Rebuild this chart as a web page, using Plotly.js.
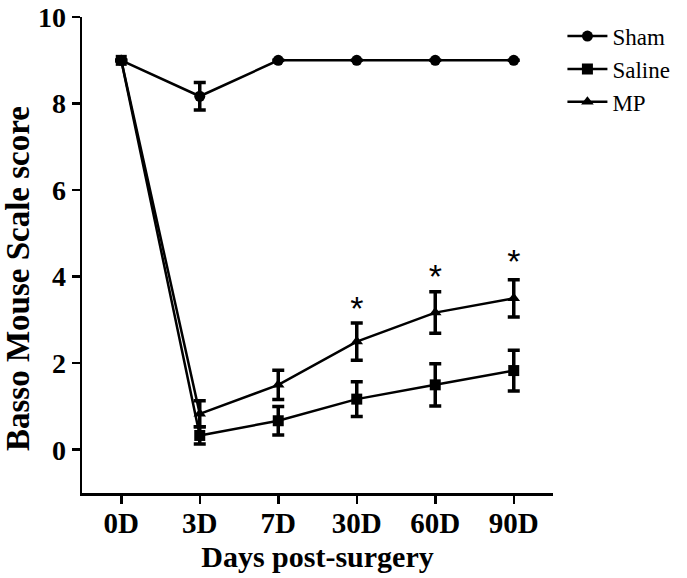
<!DOCTYPE html>
<html>
<head>
<meta charset="utf-8">
<script src="https://cdn.plot.ly/plotly-3.0.1.min.js"></script>
<style>html,body{margin:0;padding:0;background:#fff;}#chart{width:687px;height:578px;}</style>
</head>
<body>
<div id="chart"></div>
<script>
const categories = ["0D", "3D", "7D", "30D", "60D", "90D"];
const shamMean = [9, 8.17, 9, 9, 9, 9];
const shamErr = [0, 0.32, 0, 0, 0, 0];
const salineMean = [9, 0.33, 0.67, 1.17, 1.5, 1.83];
const salineErr = [0, 0.2, 0.33, 0.4, 0.49, 0.47];
const mpMean = [9, 0.83, 1.5, 2.5, 3.17, 3.5];
const mpErr = [0, 0.3, 0.34, 0.43, 0.48, 0.43];
const sigCategories = ["30D", "60D", "90D"];
const sigY = [3.2, 3.94, 4.28];
const yTicks = [0, 2, 4, 6, 8, 10];

const FONT = "Liberation Serif, Times New Roman, serif";
function series(name, y, err, symbol, size) {
  return {
    type: "scatter", mode: "lines+markers", name: name,
    x: categories, y: y,
    line: {color: "#000", width: 2.5},
    marker: {symbol: symbol, size: size, color: "#000"},
    error_y: {type: "data", array: err, visible: true, color: "#000", thickness: 3.5, width: 6}
  };
}
const traces = [
  series("Sham", shamMean, shamErr, "circle", 11),
  series("Saline", salineMean, salineErr, "square", 11),
  series("MP", mpMean, mpErr, "triangle-up", 11),
  {type: "scatter", mode: "text", x: sigCategories, y: sigY, text: sigCategories.map(() => "*"),
   textfont: {family: "Liberation Sans, Arial, sans-serif", size: 34, color: "#000"},
   showlegend: false, hoverinfo: "skip"}
];
const layout = {
  width: 687, height: 578,
  margin: {l: 82, r: 134, t: 17, b: 85, autoexpand: false},
  paper_bgcolor: "#fff", plot_bgcolor: "#fff",
  showlegend: true,
  legend: {x: 1.02, y: 1.005, xanchor: "left", yanchor: "top",
    font: {family: FONT, size: 23, color: "#000"}, tracegroupgap: 0, itemwidth: 40},
  xaxis: {
    type: "category", categoryorder: "array", categoryarray: categories,
    range: [-0.5, 5.5], showgrid: false, zeroline: false,
    showline: true, linecolor: "#000", linewidth: 2.5,
    ticks: "outside", ticklen: 8, tickwidth: 2.5, tickcolor: "#000",
    ticklabelstandoff: -5,
    tickfont: {family: FONT, size: 29, color: "#000", weight: "bold"},
    title: {text: "Days post-surgery", font: {family: FONT, size: 30, color: "#000", weight: "bold"}, standoff: 8}
  },
  yaxis: {
    range: [-1, 10.002], tickmode: "array", tickvals: yTicks, ticktext: yTicks.map(String),
    showgrid: false, zeroline: false,
    showline: true, linecolor: "#000", linewidth: 2.5,
    ticks: "outside", ticklen: 8, tickwidth: 2.5, tickcolor: "#000",
    tickfont: {family: FONT, size: 28, color: "#000", weight: "bold"}
  },
  annotations: [{
    text: "Basso Mouse Scale score", xref: "paper", yref: "paper",
    x: -82 / 471, xanchor: "left", xshift: -2, y: (493 - 279) / 476, yanchor: "middle",
    textangle: -90, showarrow: false,
    font: {family: FONT, size: 33, color: "#000", weight: "bold"}
  }]
};
Plotly.newPlot("chart", traces, layout, {displayModeBar: false, staticPlot: true});
</script>
</body>
</html>
